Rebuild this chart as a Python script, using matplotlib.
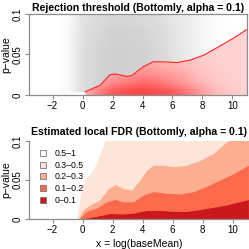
import numpy as np
import matplotlib.pyplot as plt
from matplotlib.patches import Polygon, Patch

plt.rcParams['font.family'] = ['Liberation Sans', 'DejaVu Sans']

# rejection threshold curve (top panel)
thr_x = [0.17, 1.17, 1.83, 2.17, 2.94, 3.28, 4.06, 4.72, 5.39, 6.28, 7.17, 8.06, 8.94, 10.06, 11.06]
thr_p = [0.004, 0.012, 0.025, 0.026, 0.023, 0.024, 0.035, 0.041, 0.041, 0.040, 0.043, 0.049, 0.058, 0.070, 0.082]

# point density, cells of 1 unit x 0.01 p
dens_x = [-1, 0, 1, 2, 3, 4, 5, 6, 7, 8, 9, 10]
dens_p = [0.005, 0.015, 0.025, 0.035, 0.045, 0.055, 0.065, 0.075, 0.085, 0.095]
grey_by_x = [0.08, 0.65, 0.85, 0.95, 0.95, 0.9, 0.8, 0.6, 0.4, 0.2, 0.07, 0.02]
grey_by_p = [1.0, 1.0, 1.0, 1.0, 1.0, 1.0, 0.95, 0.95, 0.9, 0.85]
red_dens = [
    [0, 0.15, 0.5, 0.8, 0.9, 0.95, 0.9, 0.8, 0.6, 0.35, 0.15, 0.05],
    [0, 0.05, 0.3, 0.5, 0.6, 0.7, 0.65, 0.5, 0.35, 0.2, 0.08, 0.03],
    [0, 0, 0.15, 0.3, 0.4, 0.5, 0.45, 0.35, 0.25, 0.12, 0.05, 0.02],
    [0, 0, 0, 0.1, 0.2, 0.35, 0.3, 0.25, 0.15, 0.08, 0.03, 0.01],
    [0, 0, 0, 0, 0.05, 0.15, 0.15, 0.12, 0.08, 0.05, 0.02, 0.01],
    [0, 0, 0, 0, 0, 0, 0, 0, 0.04, 0.03, 0.01, 0.0],
    [0, 0, 0, 0, 0, 0, 0, 0, 0, 0.01, 0.01, 0.0],
    [0, 0, 0, 0, 0, 0, 0, 0, 0, 0, 0, 0],
    [0, 0, 0, 0, 0, 0, 0, 0, 0, 0, 0, 0],
    [0, 0, 0, 0, 0, 0, 0, 0, 0, 0, 0, 0],
]

# local FDR contour boundaries (bottom panel)
b05_x = [-0.39, -0.05, 0.28, 0.72, 1.17, 1.5, 2.5, 11.1]
b05_p = [0.0, 0.042, 0.054, 0.063, 0.084, 0.1, 0.12, 0.2]
b03_x = [-0.3, 0.06, 0.5, 1.17, 1.72, 2.17, 2.72, 3.28, 3.83, 4.28, 4.72, 5.39, 6.06, 6.94, 7.83, 8.72, 9.61, 10.5, 11.1]
b03_p = [0.0, 0.012, 0.018, 0.025, 0.039, 0.044, 0.039, 0.037, 0.05, 0.063, 0.069, 0.069, 0.067, 0.069, 0.075, 0.084, 0.099, 0.11, 0.12]
b02_x = [-0.25, 0.28, 0.94, 1.61, 2.17, 2.72, 3.39, 4.06, 4.72, 5.61, 6.5, 7.39, 8.28, 9.17, 10.06, 11.06]
b02_p = [0.0, 0.01, 0.014, 0.022, 0.025, 0.022, 0.022, 0.031, 0.035, 0.033, 0.032, 0.035, 0.042, 0.05, 0.058, 0.069]
b01_x = [-0.1, 0.94, 1.83, 2.72, 3.39, 4.28, 5.17, 6.06, 6.94, 7.83, 8.72, 9.61, 11.06]
b01_p = [0.0, 0.0034, 0.007, 0.0064, 0.0076, 0.011, 0.011, 0.0097, 0.0097, 0.012, 0.015, 0.018, 0.025]
fdr_labels = ['0.5–1', '0.3–0.5', '0.2–0.3', '0.1–0.2', '0–0.1']
fdr_colors = ['white', '#FEE5D9', '#FCAE91', '#FB6A4A', '#CB181D']

XLIM = (-3.57, 10.97)
FRAME = '#8c8c8c'


def style(ax, spines):
    ax.set_xlim(XLIM)
    ax.set_ylim(0, 0.1)
    ax.set_xticks([-2, 0, 2, 4, 6, 8, 10])
    ax.set_yticks([0, 0.05, 0.1])
    ax.set_yticklabels(['0', '0.05', '0.1'], rotation=90, va='center')
    ax.tick_params(length=3, width=0.8, color=FRAME, labelsize=7, pad=1.5)
    for s in ax.spines:
        ax.spines[s].set_visible(s in spines)
        ax.spines[s].set_color(FRAME)
        ax.spines[s].set_linewidth(0.9)
        ax.spines[s].set_zorder(5)
    ax.set_ylabel('p−value', fontsize=7.5, labelpad=1)


fig = plt.figure(figsize=(2.49, 2.49), dpi=100)
fig.suppressComposite = True
ax1 = fig.add_axes([0.1165, 0.6185, 0.8755, 0.3253])
ax2 = fig.add_axes([0.1165, 0.1205, 0.8835, 0.3132])

# ---- top: rejection threshold
ext = [dens_x[0] - 0.5, dens_x[-1] + 0.5, 0, 0.1]
grey = np.zeros((len(dens_p), len(dens_x), 4))
grey[..., :3] = 0.1
grey[..., 3] = np.outer(grey_by_p, grey_by_x) * 0.22
red = np.zeros((len(dens_p), len(dens_x), 4))
red[..., 0] = 1.0
red[..., 1] = 0.05
red[..., 2] = 0.05
red[..., 3] = np.array(red_dens) * 0.75

above = np.column_stack([np.r_[XLIM[0], thr_x, 11.5, 11.5, XLIM[0]],
                         np.r_[0, thr_p, thr_p[-1], 0.2, 0.2]])
below = np.column_stack([np.r_[thr_x, thr_x[-1], thr_x[0]],
                         np.r_[thr_p, 0, 0]])
im_g = ax1.imshow(grey, extent=ext, origin='lower', aspect='auto',
                  interpolation='bilinear', zorder=0.5)
im_g.set_clip_path(Polygon(above, transform=ax1.transData))
ax1.fill_between(thr_x, 0, thr_p, color='#ffd3d3', lw=0, zorder=1)
im_r = ax1.imshow(red, extent=ext, origin='lower', aspect='auto',
                  interpolation='bilinear', zorder=1.5)
im_r.set_clip_path(Polygon(below, transform=ax1.transData))
ax1.plot(thr_x, thr_p, color='#ff3030', lw=0.9, zorder=2)
style(ax1, ['left', 'bottom', 'top', 'right'])
ax1.set_xlim(XLIM)
ax1.set_title('Rejection threshold (Bottomly, alpha = 0.1)', fontsize=7.6,
              fontweight='bold', pad=2.5)

# ---- bottom: estimated local FDR
for bx, bp, c in [(b05_x, b05_p, fdr_colors[1]), (b03_x, b03_p, fdr_colors[2]),
                  (b02_x, b02_p, fdr_colors[3]), (b01_x, b01_p, fdr_colors[4])]:
    ax2.fill_between(bx, 0, bp, color=c, lw=0)
style(ax2, ['left', 'bottom'])
ax2.set_xlim(XLIM[0], 11.1)
ax2.set_title('Estimated local FDR (Bottomly, alpha = 0.1)', fontsize=7.6,
              fontweight='bold', pad=4)
ax2.set_xlabel('x = log(baseMean)', fontsize=7.5, labelpad=2.5)
handles = [Patch(facecolor=c, edgecolor='#777777', lw=0.6) for c in fdr_colors]
ax2.legend(handles, fdr_labels, loc='upper left', bbox_to_anchor=(0.035, 0.94),
           frameon=False, fontsize=6.3, handlelength=0.7, handleheight=0.7,
           handletextpad=0.9, labelspacing=0.3, borderaxespad=0)

plt.savefig('out.png', format='png')
